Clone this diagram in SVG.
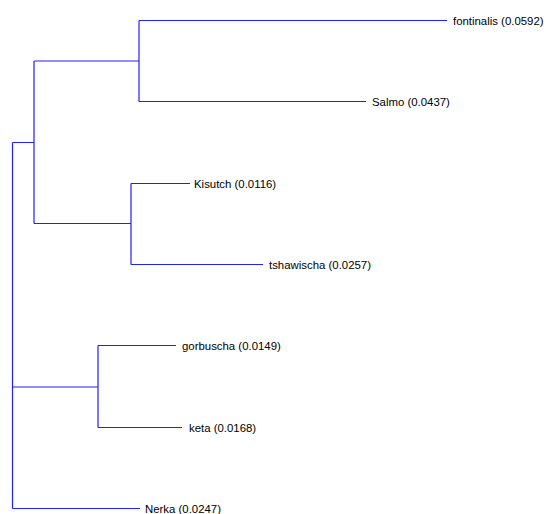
<svg xmlns="http://www.w3.org/2000/svg" width="546" height="514" viewBox="0 0 546 514">
<style>
.e{fill:none;stroke:#2020ff;stroke-width:1.2}
.t{font-family:"Liberation Sans",Arial,sans-serif;font-size:11.4px;fill:#000;dominant-baseline:central}
</style>
<rect width="546" height="514" fill="#fff"/>
<g id="connectors">
<path class="e" d="M12.5,142.5V508.5M12.5,142.5H34M12.5,387H98M12.5,508.5H140"/>
<path class="e" d="M34,61V223.5M34,61H139M34,223.5H131"/>
<path class="e" d="M139,20.5V101.5M139,20.5H447M139,101.5H366"/>
<path class="e" d="M131,183.5V264.5M131,183.5H190M131,264.5H263"/>
<path class="e" d="M98,345.5V427.5M98,345.5H176M98,427.5H182"/>
</g>
<g id="fontinalis"><text class="t" x="453" y="20.5">fontinalis (0.0592)</text></g>
<g id="salmo"><text class="t" x="372" y="101.5">Salmo (0.0437)</text></g>
<g id="kisutch"><text class="t" x="194" y="183.5">Kisutch (0.0116)</text></g>
<g id="tshawischa"><text class="t" x="269" y="264.5">tshawischa (0.0257)</text></g>
<g id="gorbuscha"><text class="t" x="182" y="345.5">gorbuscha (0.0149)</text></g>
<g id="keta"><text class="t" x="189" y="427.5">keta (0.0168)</text></g>
<g id="nerka"><text class="t" x="145" y="508.5">Nerka (0.0247)</text></g>
</svg>
